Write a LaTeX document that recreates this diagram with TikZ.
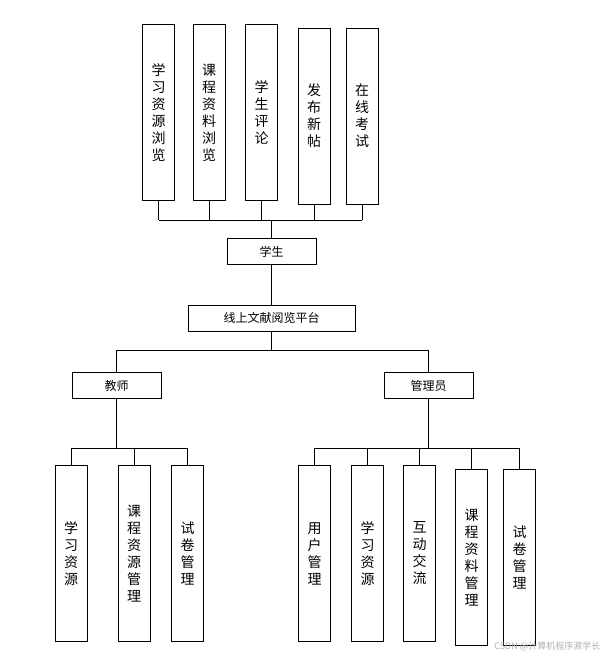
\documentclass[tikz,border=0pt]{standalone}
\usepackage{fontspec}
\newfontfamily\cjk{Noto Sans CJK SC}
\begin{document}
\begin{tikzpicture}[x=1pt,y=-1pt,
  bx/.style={draw,thick,minimum width=32pt,minimum height=176pt,inner sep=0pt,font=\cjk\fontsize{14}{17}\selectfont,align=center},
  hb/.style={draw,thick,minimum height=26pt,inner sep=0pt,font=\cjk\fontsize{12}{14}\selectfont},
  ln/.style={thick}]
\useasboundingbox (0,0) rectangle (607,657);
\node[bx] (t1) at (158.5,112.5) {学\\习\\资\\源\\浏\\览};
\node[bx] (t2) at (209,112.5) {课\\程\\资\\料\\浏\\览};
\node[bx] (t3) at (261.5,112.5) {学\\生\\评\\论};
\node[bx] (t4) at (314,116) {发\\布\\新\\帖};
\node[bx] (t5) at (362,116) {在\\线\\考\\试};
\node[hb,minimum width=89pt] (s) at (271.5,251.5) {学生};
\node[hb,minimum width=167pt] (p) at (271.5,318) {线上文献阅览平台};
\node[hb,minimum width=89pt] (te) at (116.5,385.5) {教师};
\node[hb,minimum width=89pt] (ad) at (428.5,385.5) {管理员};
\node[bx] (a1) at (71,553.5) {学\\习\\资\\源};
\node[bx] (a2) at (134,553.5) {课\\程\\资\\源\\管\\理};
\node[bx] (a3) at (187.5,553.5) {试\\卷\\管\\理};
\node[bx] (b1) at (314.5,553.5) {用\\户\\管\\理};
\node[bx] (b2) at (367.5,553.5) {学\\习\\资\\源};
\node[bx] (b3) at (419.5,553.5) {互\\动\\交\\流};
\node[bx] (b4) at (471.5,557.5) {课\\程\\资\\料\\管\\理};
\node[bx] (b5) at (519.5,557.5) {试\\卷\\管\\理};
\coordinate (tb) at (271.5,220);
\foreach \n in {t1,t2,t3,t4,t5} \draw[ln] (\n.south) -- (\n.south |- tb);
\draw[ln] (t1.south |- tb) -- (t5.south |- tb);
\draw[ln] (tb) -- (s.north);
\draw[ln] (s) -- (p);
\coordinate (pb) at (271.5,350);
\draw[ln] (p.south) -- (pb);
\draw[ln] (te.north |- pb) -- (ad.north |- pb);
\draw[ln] (te.north |- pb) -- (te.north);
\draw[ln] (ad.north |- pb) -- (ad.north);
\coordinate (ab) at (116.5,448);
\draw[ln] (te.south) -- (ab);
\draw[ln] (a1.north |- ab) -- (a3.north |- ab);
\foreach \n in {a1,a2,a3} \draw[ln] (\n.north |- ab) -- (\n.north);
\coordinate (bb) at (428.5,448);
\draw[ln] (ad.south) -- (bb);
\draw[ln] (b1.north |- bb) -- (b5.north |- bb);
\foreach \n in {b1,b2,b3,b4,b5} \draw[ln] (\n.north |- bb) -- (\n.north);
\node[text=gray!60,font=\cjk\fontsize{9}{10}\selectfont,anchor=east] (w) at (604,646) {CSDN @计算机程序源学长};
\end{tikzpicture}
\end{document}
